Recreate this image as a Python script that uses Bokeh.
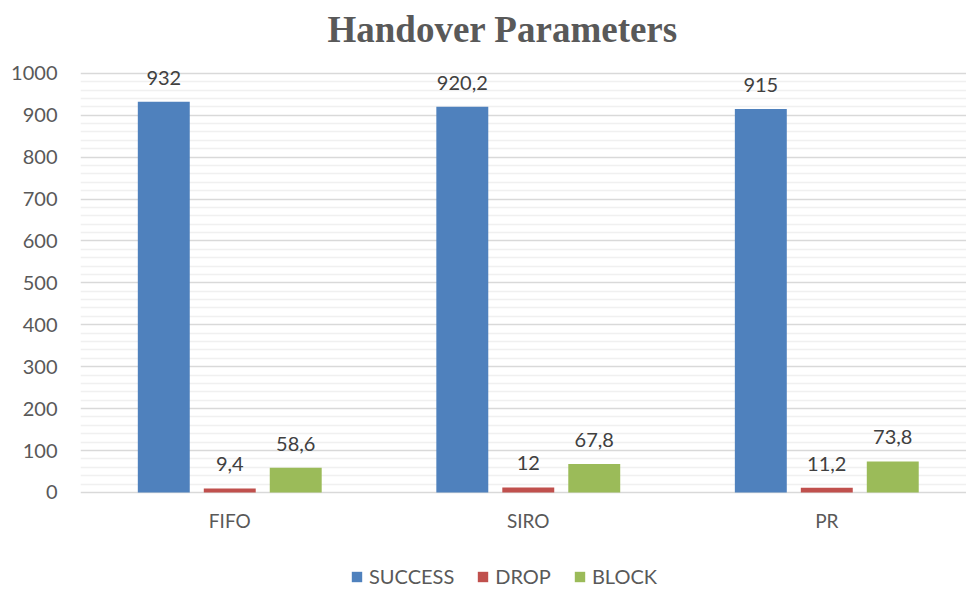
import numpy as np
from bokeh.plotting import figure
from bokeh.models import (ColumnDataSource, Range1d, FixedTicker, Legend, LegendItem, Title)
from bokeh.core.properties import value
from bokeh.embed import file_html
from bokeh.resources import INLINE

categories = ["FIFO", "SIRO", "PR"]
series_names = ["SUCCESS", "DROP", "BLOCK"]
success = [932, 920.2, 915]
drop = [9.4, 12, 11.2]
block = [58.6, 67.8, 73.8]
y_ticks = [0, 100, 200, 300, 400, 500, 600, 700, 800, 900, 1000]

colors = ["#4f81bd", "#c0504d", "#9bbb59"]
FONT = "Lato"

def fmt(v):
    s = ("%g" % v)
    return s.replace(".", ",")

p = figure(width=966, height=590, output_backend="svg", toolbar_location=None,
           x_range=Range1d(0, 2.968), y_range=Range1d(-234, 1040),
           min_border_left=80, min_border_right=0, min_border_top=0,
           min_border_bottom=0)
p.outline_line_color = None
p.background_fill_color = "white"

title = Title(text="Handover Parameters", align="left", offset=247,
              text_font="Liberation Serif", text_font_style="bold",
              text_font_size="37px", text_color="#595959", standoff=13)
p.add_layout(title, "above")

centers = np.arange(len(categories)) + 0.5
offsets = [-0.221, 0.0, 0.221]
bar_w = 0.174
items = []
for name, vals, off, col in zip(series_names, [success, drop, block], offsets, colors):
    src = ColumnDataSource(dict(x=centers + off, top=vals, lab=[fmt(v) for v in vals]))
    r = p.vbar(x="x", top="top", bottom=0, width=bar_w, source=src,
               fill_color=col, line_color=None)
    p.text(x="x", y="top", text="lab", source=src, text_align="center",
           text_baseline="bottom", y_offset=-17, text_font=value(FONT),
           text_font_size="20px", text_color="#404040")
    items.append(LegendItem(label=name, renderers=[r]))

# category labels under the baseline
csrc = ColumnDataSource(dict(x=centers, y=[0] * len(categories), lab=categories))
p.text(x="x", y="y", text="lab", source=csrc, text_align="center",
       text_baseline="top", y_offset=17, text_font=value(FONT),
       text_font_size="19px", text_color="#595959")

yticker = FixedTicker(ticks=y_ticks,
                      minor_ticks=[v for v in range(0, 1001, 20) if v % 100])
p.yaxis.ticker = yticker
p.yaxis.axis_line_color = None
p.yaxis.major_tick_line_color = None
p.yaxis.minor_tick_line_color = None
p.yaxis.major_label_standoff = 17
p.yaxis.major_label_text_font = FONT
p.yaxis.major_label_text_font_size = "20px"
p.yaxis.major_label_text_color = "#595959"

p.xaxis.visible = False

p.xgrid.grid_line_color = None
p.ygrid.ticker = yticker
p.ygrid.grid_line_color = "#d9d9d9"
p.ygrid.grid_line_width = 1.5
p.ygrid.minor_grid_line_color = "#f0f0f0"
p.ygrid.minor_grid_line_width = 1.5

legend = Legend(items=items, orientation="horizontal", location=(270, 2),
                label_text_font=FONT, label_text_font_size="20px",
                label_text_color="#595959", glyph_width=13, glyph_height=13,
                label_standoff=6, spacing=22, border_line_color=None,
                background_fill_alpha=0, padding=0, margin=0)
p.add_layout(legend, "center")

open("out.html", "w").write(file_html(p, INLINE))
